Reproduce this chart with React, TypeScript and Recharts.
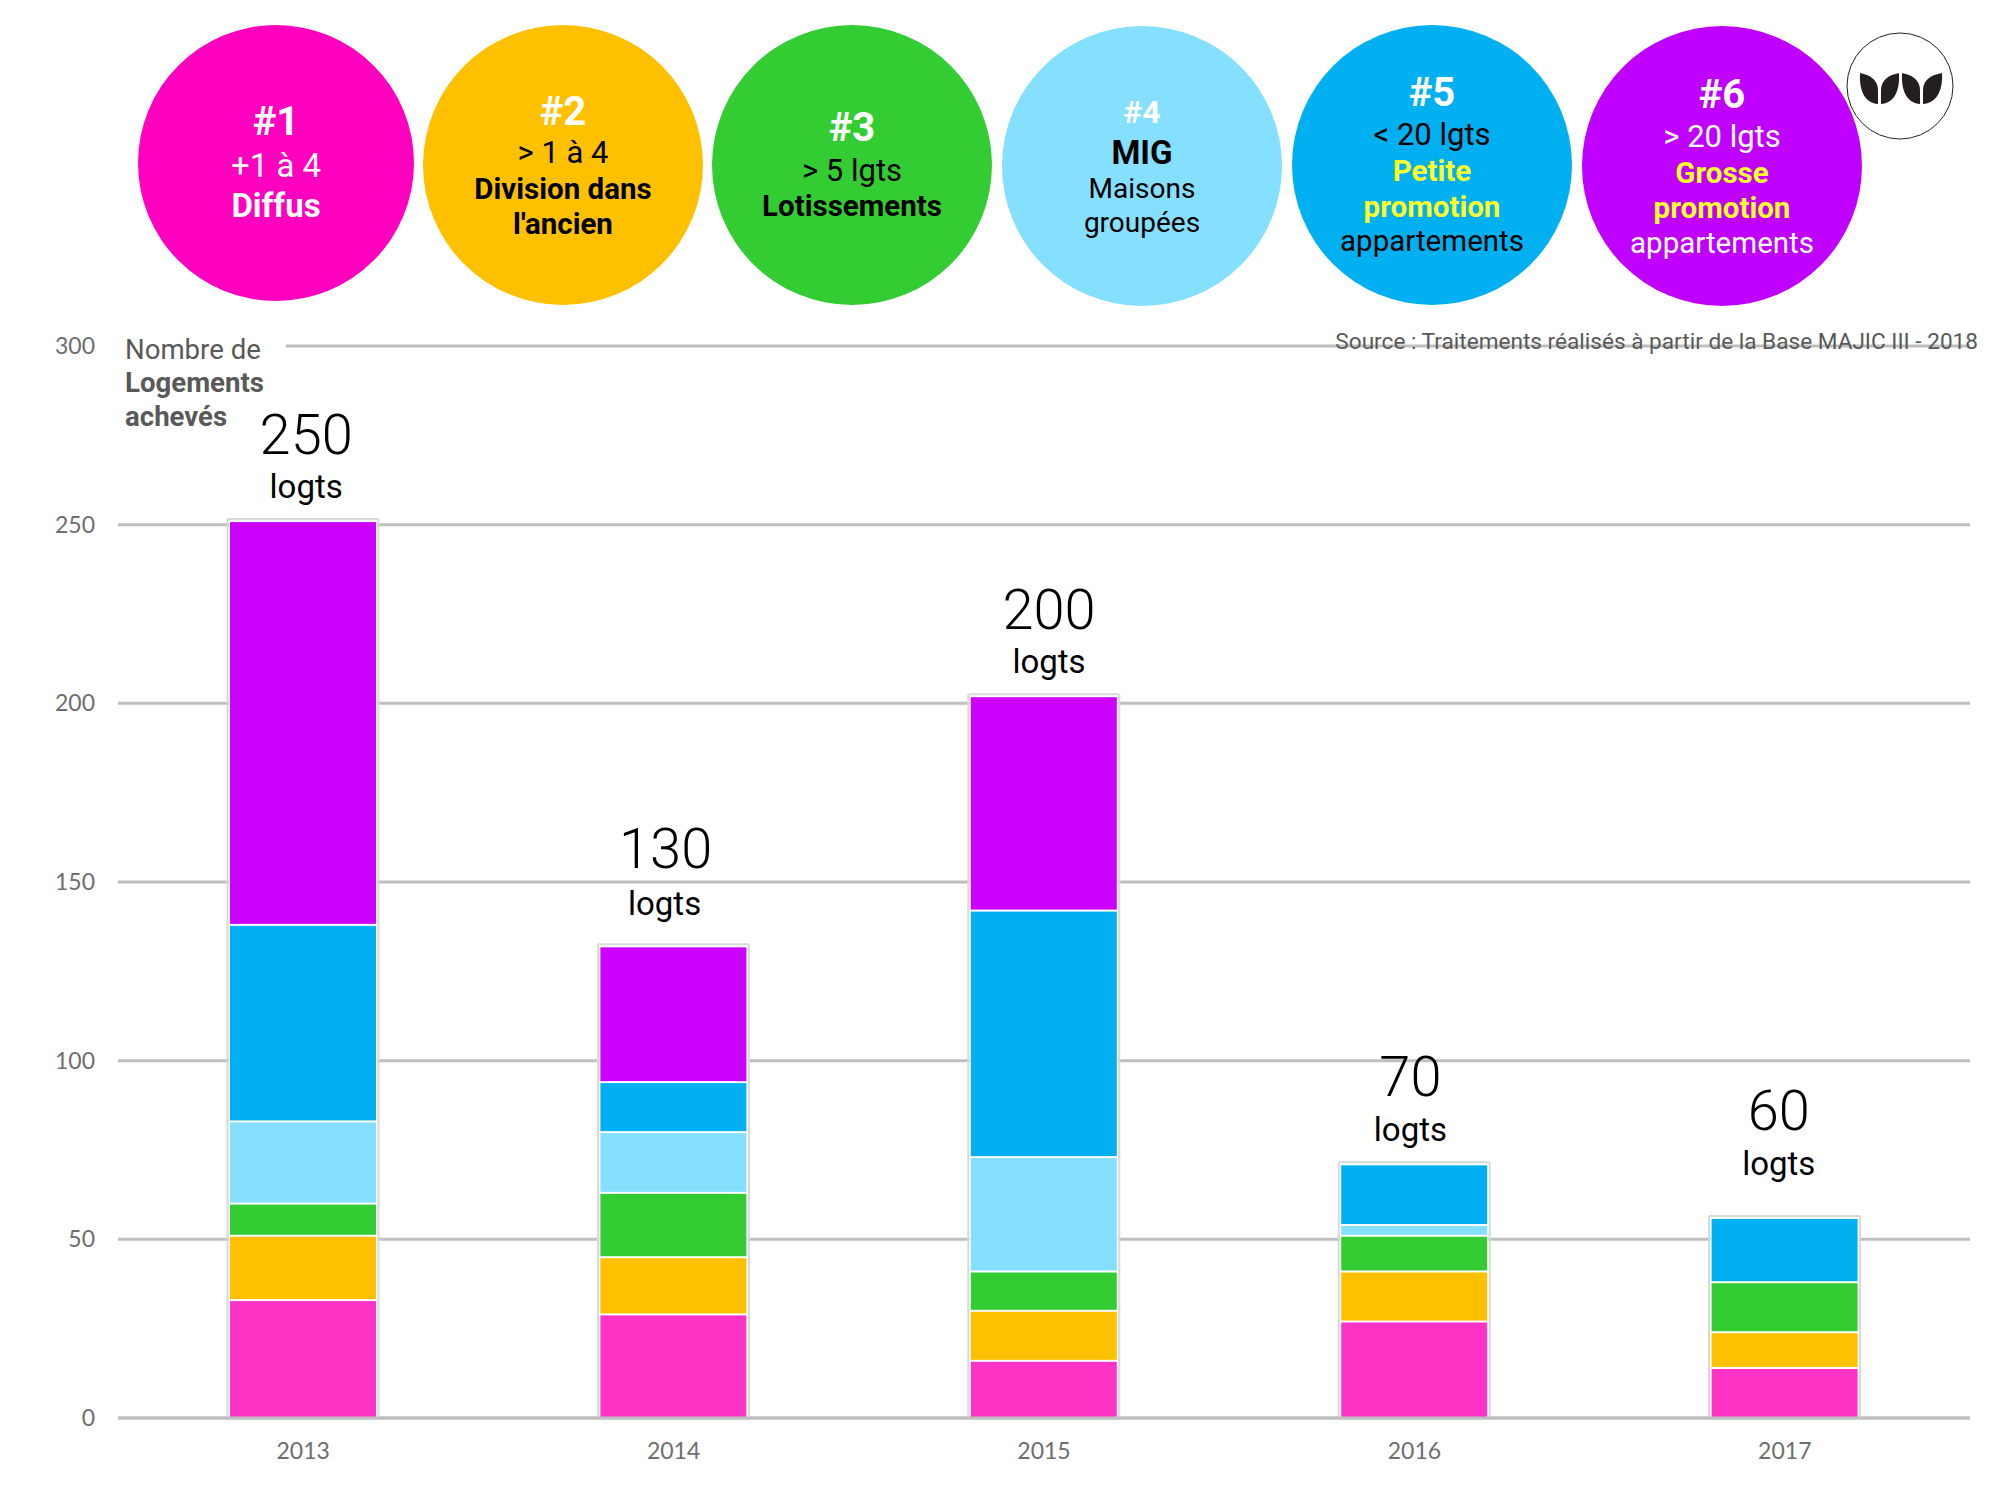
import { Bar, CartesianGrid, ComposedChart, Line, XAxis, YAxis } from 'recharts';

const years = ['2013', '2014', '2015', '2016', '2017'];
const diffus = [33, 29, 16, 27, 14];
const division = [18, 16, 14, 14, 10];
const lotissements = [9, 18, 11, 10, 14];
const mig = [23, 17, 32, 3, 0];
const petitePromotion = [55, 14, 69, 17, 18];
const grossePromotion = [113, 38, 60, 0, 0];
const totals = ['250', '130', '200', '70', '60'];
const yTicks = [0, 50, 100, 150, 200, 250, 300];

const barSeries = [
    { key: 'diffus', values: diffus, color: '#ff33c6' },
    { key: 'division', values: division, color: '#ffc000' },
    { key: 'lotissements', values: lotissements, color: '#33cc33' },
    { key: 'mig', values: mig, color: '#85dfff' },
    { key: 'petite', values: petitePromotion, color: '#00b0f0' },
    { key: 'grosse', values: grossePromotion, color: '#cc00ff' },
];

const chartData = years.map((year, i) => {
    const row: Record<string, string | number> = { year };
    let top = 0;
    barSeries.forEach((s) => {
        row[s.key] = s.values[i];
        top += s.values[i];
    });
    row.top = top;
    return row;
});

// the total labels were placed by hand in the original, so they are a bit off the bars
const numberNudgeX = [3, -8, 5, -4, -6];
const unitNudgeX = [3, -9, 5, -4, -6];
const numberNudgeY = [-1.5, -12, -1.5, -2.5, -22];
const unitNudgeY = [1, -7, 1, 1, -19];

const WHITE = '#ffffff';
const BLACK = '#000000';
const YELLOW = '#ffff2a';
const EDGE = '#d9d9d9';

type BubbleLine = { text: string; y: number; color: string; bold?: boolean; size?: number };
type Bubble = { cx: number; cy: number; r: number; fill: string; lines: BubbleLine[] };

const bubbles: Bubble[] = [
    {
        cx: 276, cy: 163, r: 138, fill: '#ff00bf',
        lines: [
            { text: '#1', y: 122, color: WHITE, bold: true, size: 40 },
            { text: '+1 à 4', y: 166, color: WHITE, size: 33 },
            { text: 'Diffus', y: 206, color: WHITE, bold: true, size: 33 },
        ],
    },
    {
        cx: 563, cy: 165, r: 140, fill: '#ffc000',
        lines: [
            { text: '#2', y: 112, color: WHITE, bold: true, size: 40 },
            { text: '> 1 à 4', y: 153, color: BLACK, size: 31 },
            { text: 'Division dans', y: 189, color: BLACK, bold: true },
            { text: "l'ancien", y: 224, color: BLACK, bold: true },
        ],
    },
    {
        cx: 852, cy: 165, r: 140, fill: '#33cc33',
        lines: [
            { text: '#3', y: 128, color: WHITE, bold: true, size: 40 },
            { text: '> 5 lgts', y: 171, color: BLACK, size: 31 },
            { text: 'Lotissements', y: 206, color: BLACK, bold: true },
        ],
    },
    {
        cx: 1142, cy: 166, r: 140, fill: '#85dfff',
        lines: [
            { text: '#4', y: 112, color: WHITE, bold: true, size: 32 },
            { text: 'MIG', y: 153, color: BLACK, bold: true, size: 33 },
            { text: 'Maisons', y: 189, color: BLACK, size: 28 },
            { text: 'groupées', y: 223, color: BLACK, size: 28 },
        ],
    },
    {
        cx: 1432, cy: 165, r: 140, fill: '#00b0f0',
        lines: [
            { text: '#5', y: 93, color: WHITE, bold: true, size: 40 },
            { text: '< 20 lgts', y: 135, color: BLACK, size: 31 },
            { text: 'Petite', y: 171, color: YELLOW, bold: true },
            { text: 'promotion', y: 207, color: YELLOW, bold: true },
            { text: 'appartements', y: 241, color: BLACK },
        ],
    },
    {
        cx: 1722, cy: 166, r: 140, fill: '#bf00ff',
        lines: [
            { text: '#6', y: 95, color: WHITE, bold: true, size: 40 },
            { text: '> 20 lgts', y: 137, color: WHITE, size: 31 },
            { text: 'Grosse', y: 173, color: YELLOW, bold: true },
            { text: 'promotion', y: 208, color: YELLOW, bold: true },
            { text: 'appartements', y: 243, color: WHITE },
        ],
    },
];

const leaves = [
    'M1860 73 C1870 75 1878 80 1878 90 L1878 104 C1866 103 1859 93 1860 73 Z',
    'M1899 73 C1889 75 1881 80 1881 90 L1881 104 C1893 103 1900 93 1899 73 Z',
    'M1902 73 C1912 75 1920 80 1920 90 L1920 104 C1908 103 1901 93 1902 73 Z',
    'M1942 73 C1931 75 1923 80 1923 90 L1923 104 C1935 103 1943 93 1942 73 Z',
];

function SegmentShape(props: any) {
    const { x, y, width, height, fill, value, payload } = props;
    if (!height || height <= 0) return null;
    const isTop = Array.isArray(value) && value[1] === payload.top;
    const left = x - 2.5;
    const right = x + width + 2.5;
    return (
        <g>
            <rect x={x - 1} y={y} width={width + 2} height={height} fill={WHITE} />
            <rect x={x} y={y + 1} width={width} height={height - 2} fill={fill} />
            <line x1={left} x2={left} y1={y - 2} y2={y + height} stroke={EDGE} strokeWidth={2} />
            <line x1={right} x2={right} y1={y - 2} y2={y + height} stroke={EDGE} strokeWidth={2} />
            {isTop && <line x1={left} x2={right} y1={y - 2} y2={y - 2} stroke={EDGE} strokeWidth={2} />}
        </g>
    );
}

function TotalLabel(props: any) {
    const { x, y, index } = props;
    return (
        <g fontFamily="Roboto" fill={BLACK} textAnchor="middle">
            <text x={x + numberNudgeX[index]} y={y - 66 + numberNudgeY[index]} fontSize={56} fontWeight={350}>{totals[index]}</text>
            <text x={x + unitNudgeX[index]} y={y - 24 + unitNudgeY[index]} fontSize={33}>logts</text>
        </g>
    );
}

function Header() {
    return (
        <svg width={2000} height={1500} style={{ position: 'absolute', left: 0, top: 0, pointerEvents: 'none' }}>
            {bubbles.map((b) => (
                <g key={b.fill}>
                    <circle cx={b.cx} cy={b.cy} r={b.r} fill={b.fill} />
                    {b.lines.map((l) => (
                        <text
                            key={l.text}
                            x={b.cx}
                            y={l.y + (l.size ?? 29.5) * 0.33}
                            textAnchor="middle"
                            fontFamily="Roboto"
                            fontSize={l.size ?? 29.5}
                            fontWeight={l.bold ? 700 : 400}
                            fill={l.color}
                        >
                            {l.text}
                        </text>
                    ))}
                </g>
            ))}
            <circle cx={1900} cy={86} r={53} fill={WHITE} stroke="#222222" strokeWidth={1} />
            {leaves.map((d) => <path key={d} d={d} fill="#231f20" />)}

            <rect x={115} y={335} width={171} height={22} fill={WHITE} />
            <g fontFamily="Roboto" fontSize={27.6} fill="#595959">
                <text x={125} y={359}>Nombre de</text>
                <text x={125} y={392} fontWeight={700}>Logements</text>
                <text x={125} y={426} fontWeight={700}>achevés</text>
            </g>
            <text x={1978} y={349} textAnchor="end" fontFamily="Roboto" fontSize={22.6} fill="#595959">
                Source : Traitements réalisés à partir de la Base MAJIC III - 2018
            </text>
        </svg>
    );
}

export default function App() {
    return (
        <div style={{ position: 'absolute', left: 0, top: 0, width: 2000, height: 1500, background: WHITE }}>
            <ComposedChart
                width={2000}
                height={1500}
                data={chartData}
                margin={{ top: 346, right: 30, bottom: 32, left: 38 }}
            >
                <CartesianGrid horizontal vertical={false} stroke="#bfbfbf" strokeWidth={3} />
                <XAxis
                    dataKey="year"
                    height={50}
                    axisLine={{ stroke: '#bfbfbf', strokeWidth: 3 }}
                    tickLine={false}
                    tickMargin={19}
                    tick={{ fill: '#6e6e6e', fontSize: 23, fontFamily: 'Lato' }}
                />
                <YAxis
                    width={80}
                    domain={[0, 300]}
                    ticks={yTicks}
                    axisLine={false}
                    tickLine={false}
                    tickMargin={17}
                    tick={{ fill: '#6e6e6e', fontSize: 23, fontFamily: 'Lato' }}
                />
                {barSeries.map((s) => (
                    <Bar
                        key={s.key}
                        dataKey={s.key}
                        stackId="logements"
                        fill={s.color}
                        barSize={146}
                        shape={SegmentShape}
                        isAnimationActive={false}
                    />
                ))}
                <Line
                    dataKey="top"
                    stroke="none"
                    dot={false}
                    activeDot={false}
                    label={TotalLabel}
                    isAnimationActive={false}
                />
            </ComposedChart>
            <Header />
        </div>
    );
}
